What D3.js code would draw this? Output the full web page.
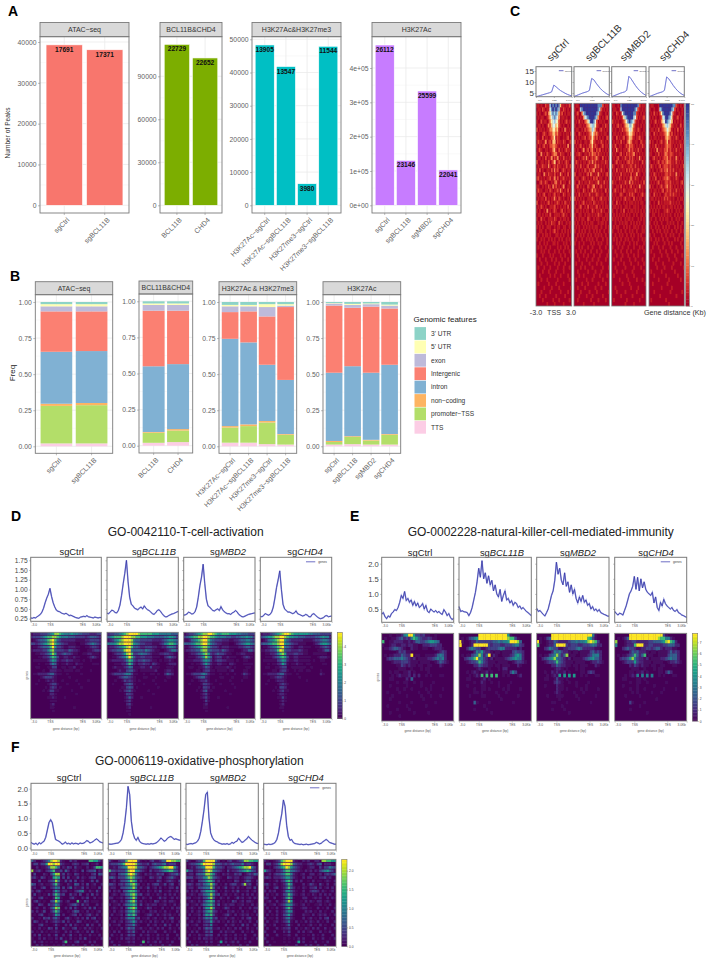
<!DOCTYPE html>
<html>
<head>
<meta charset="utf-8">
<script src="https://cdn.jsdelivr.net/npm/d3@7"></script>
<style>
html, body { margin: 0; padding: 0; background: #fff; }
svg { display: block; font-family: "Liberation Sans", Arial, sans-serif; }
</style>
</head>
<body>
<div id="chart"></div>
<script>
// Panel A: peak counts
var peakCatsAtac = ["sgCtrl", "sgBCL11B"];
var peakValsAtac = [39300, 38100];
var peakLabsAtac = [17691, 17371];
var peakTicksAtac = [0, 10000, 20000, 30000, 40000];
var peakCatsBcl = ["BCL11B", "CHD4"];
var peakValsBcl = [112300, 102800];
var peakLabsBcl = [22729, 22652];
var peakTicksBcl = [0, 30000, 60000, 90000];
var peakCatsHist = ["H3K27Ac−sgCtrl", "H3K27Ac−sgBCL11B", "H3K27me3−sgCtrl", "H3K27me3−sgBCL11B"];
var peakValsHist = [48300, 41800, 6500, 47900];
var peakLabsHist = [13905, 13547, 3980, 11544];
var peakTicksHist = [0, 10000, 20000, 30000, 40000, 50000];
var peakCatsAc = ["sgCtrl", "sgBCL11B", "sgMBD2", "sgCHD4"];
var peakValsAc = [467000, 131000, 333000, 103000];
var peakLabsAc = [26112, 23146, 25599, 22041];
var peakTicksAc = [0, 100000, 200000, 300000, 400000];
var peakTickLabsAc = ["0e+00", "1e+05", "2e+05", "3e+05", "4e+05"];

// Panel B: genomic features, bottom of the stack first
var features = ["TTS", "promoter−TSS", "non−coding", "intron", "Intergenic", "exon", "5' UTR", "3' UTR"];
var featureColors = ["#fccde5", "#b3de69", "#fdb462", "#80b1d3", "#fb8072", "#bebada", "#ffffb3", "#8dd3c7"];
var freqAtac = [[.02, .26, .015, .36, .28, .035, .015, .015], [.02, .265, .015, .36, .275, .035, .015, .015]];
var freqBcl = [[.02, .07, .005, .455, .385, .04, .01, .015], [.025, .08, .01, .45, .37, .04, .01, .015]];
var freqHist = [[.025, .105, .01, .605, .185, .04, .01, .02], [.025, .115, .012, .568, .215, .035, .01, .02],
  [.015, .15, .01, .39, .335, .065, .02, .015], [.012, .068, .005, .375, .505, .01, .01, .015]];
var freqAc = [[.012, .018, .007, .473, .465, .015, .003, .007], [.015, .05, .005, .485, .405, .02, .007, .013],
  [.012, .028, .005, .465, .458, .017, .005, .01], [.012, .068, .005, .48, .39, .02, .007, .018]];
var freqTicks = [0, .25, .5, .75, 1];

// Panel C: TSS profiles
var sampleNames = ["sgCtrl", "sgBCL11B", "sgMBD2", "sgCHD4"];
var profC = [
  [3.3, 3.6, 3.9, 4.2, 4.5, 4.8, 5.1, 5.5, 8.6, 7.8, 6.9, 6.1, 5.5, 4.9, 4.4, 4.0, 3.7],
  [3.4, 3.8, 4.2, 4.6, 5.0, 5.3, 5.6, 6.2, 11.6, 11.0, 9.5, 8.2, 7.0, 6.0, 5.2, 4.5, 4.0],
  [3.3, 3.7, 4.1, 4.5, 4.9, 5.2, 5.5, 6.2, 12.6, 11.5, 10, 8.5, 7.2, 6.1, 5.2, 4.5, 3.9],
  [3.3, 3.7, 4.1, 4.5, 4.9, 5.2, 5.5, 6.2, 12.3, 11.4, 9.9, 8.4, 7.1, 6.0, 5.1, 4.4, 3.9]
];
var heatCCtrl = [
"110100211798989841101020","011021011689898710210101","101001203578787412010110","010110012467876301101001","100201101356765201012011",
"011010013246645210100101","201101011335534101031010","010012101224423110101102","110020110123512100101201","021101301214402110210012",
"101012010223321010110301","012100110113410201012110","100301021012331021100102","011010201130213010201011","200110102012401201012100",
"010121103101202110102012","102010011020312001210110","011003102110201031010201","120101011201302011201010","001201210010231020110021",
"110010102103120101300110","021100110210112031010201","101012001101201100210110","010110201011310210100102","200101012010112101021010",
"010210100111201010110201","101001030101210012010110","011010110200111101201001","100201001110210010110100","010100101021100201001011",
"101010011100101100110010","001100100101201001010101","010010110100011010100100","100101001010100101001010","001001010001101000101001",
"010100100100001010010100","000101001000100100100010","100010000101000010010001","001000100010010001000100","000100010000100100010000",
"010001000100001000100010","000010001000010000100000","001000000100100010000100","000100010000001000000010","010000001000010000100000",
"000001000010000100000001","000100000100000010000100","001000100000010000010000","000010000001000100000010","000000010000100000100000"];
var heatCBcl = [
"011099999999999988820110","100178999999999987201010","012003789999999872100101","101010367899998731010120","010201023579986201101001",
"100110102346775210010210","011001021234763101201010","100210101123642310101100","010101120122531201010021","201010011013521010210101",
"010120101022412100120110","101001301202310212010101","011210011021322021101010","100101203101212310020101","021010110120302010110210",
"101020101201113020101010","010101021021230110201001","200110101203101031010120","011001210101021201100101","100201011021101130102010",
"012010100210230101201010","101100210101312010100201","010201011020101210110010","201010100111210101201101","010101201011021010110100",
"100120010201101201010110","011010101100210110201001","100110010110101021100110","010101100210010110011010","101001010101100010110100",
"010100101010101100100101","100101010010010101001001","001010100101001010100100","010001001010100100010010","100100100001010010100010",
"000101000100100001000100","010010010001000100100001","001000100100010001000010","000100001000100010000100","010001000010000100100000",
"000010010000100000010001","001000000100001000100000","000100100000010001000010","010000001000100000010000","000001000100000010000100",
"001000010000001000100000","000010000010000100000001","000100001000100000010000","001000000001000010000100","000000100000010000000000"];
var heatCMbd = [
"110010899999999999820110","011001799999999987210101","100210168999999882101010","010101025789999762010120","201010012468987620100101",
"010120101345775310101010","101001021234664210210010","011010101123553201010101","100201012012442101120100","010110201013431011002101",
"102001100121322101010210","010310101102312010201001","101001201021212301010101","010120010210202101031010","001201101012212010100201",
"210010120101121020101010","010201011020212010210101","101010201101020113010010","010102101010131021100101","201001010210302010101020",
"100110201010120101030101","012010102101111021010100","101001210010212100101201","010110101201100201011001","100201001010111010101100",
"011010100110100110100101","100100102001011010101010","010101011010100101001101","101010100101101000101010","001001010110010101010010",
"010110001010100110100101","100010100100101001000110","001001010010010100101000","010100100101001000100101","000101001000100101000010",
"100010010001000100010100","001000100010010000100010","000100010001000100100000","010000100000100010000100","000010001000010000100010",
"001000000100000100001000","000100010000001000000010","010000000010000100000000","000001000001000001000100","000000010000100000000001",
"001000000000010000100000","000100000100000001000000","000000100000001000000100","010000000010000000010000","000000000100000100000000"];
var heatCChd = [
"011000199999999988210101","100100178999999872010010","010201025899998621001010","101010012679987510120100","010120103569876401010101",
"100101011346764210100201","011010201234653101020110","100201011123541201010101","010110101013432010210010","201001012012412110101101",
"101020101012322101010210","010103011022312010201010","110010201023212210101100","001201010122312010310101","100101201212322110201010",
"021010120122212010110102","101001012022312020101101","010210101012212110301010","101020010122321010210001","010101201012212010110120",
"201001012012312101010101","010110101201212010201010","100201010012112021101001","011010101020211010010110","100100201011112010101001",
"010101010110101101010100","101010100011210100101001","001100101010101001010110","010010010101100100101000","100101001000101010010010",
"010010100101010001010100","001001010010100100100101","100100001001001010001000","010010100100100001010010","000101000010010100000100",
"001000100100001000100010","010000010001000100010000","000100001000100001000010","001000100000010000100000","000010000100000010000100",
"000001000010000100000001","010000001000000001000000","000100000001000000010000","000000100000010000000100","001000000000100000000000",
"000000001000000100000000","000100000000001000000010","000000010000000000100000","010000000001000000000000","000000000000010000000000"];

// Panel D: T-cell activation
var profDCtrl = [.27, .26, .28, .27, .30, .33, .36, .42, .52, .66, .78, .88, 1.03, .82, .66, .55, .47, .44, .43, .40, .38, .37, .39, .36, .33, .34, .32, .30, .28, .27, .26, .29, .30, .31, .30, .33, .30, .29, .28, .27, .29, .28, .27, .28, .28];
var profDBcl = [.39, .38, .42, .47, .45, .41, .40, .46, .60, .85, 1.15, 1.42, 1.75, 1.20, .80, .62, .58, .52, .50, .48, .52, .55, .50, .58, .52, .48, .46, .42, .38, .36, .40, .46, .48, .44, .38, .33, .30, .30, .33, .35, .37, .38, .40, .42, .44];
var profDMbd = [.34, .35, .37, .42, .40, .37, .38, .43, .55, .80, 1.10, 1.32, 1.65, 1.15, .75, .58, .55, .50, .46, .45, .48, .50, .46, .56, .48, .43, .40, .38, .38, .36, .40, .42, .46, .42, .36, .33, .30, .30, .32, .34, .36, .37, .38, .39, .40];
var profDChd = [.31, .30, .33, .38, .36, .34, .36, .42, .55, .78, 1.05, 1.25, 1.48, 1.00, .62, .50, .46, .42, .42, .40, .38, .40, .45, .38, .36, .34, .32, .33, .36, .34, .30, .30, .36, .38, .34, .30, .27, .25, .26, .28, .32, .33, .30, .31, .32];
var profDTicks = [.25, .5, .75, 1, 1.25, 1.5, 1.75];
var heatDCtrl = [
"122233345688765556554433322233","233345677887655544433332344432","012344578974322222211112233332","332345678975432211100112345432",
"011234457963321122211001123321","122223357843332243221000112332","001122346862234332110011221110","000112235763112211211000123210",
"011111124652122322111010010000","000100113541011211021100001110","001100011330011011200100000000","000001002221101111011000010000",
"011222234421100100000100000000","000012333210000010000000000000","000100121210010000010000100000","001000012331000100001000000000",
"000000102320100000000100000000","000001013311000001000000000000","000000002210000000010000000000","000000011210001000000000000000",
"000000001110000000000000000000","000000001200000000000000000000","000000001100000000100000000000","000000000100000000000000000000",
"000000000000000000000000000000","000000000000000000000000000000"];
var heatDBcl = [
"233445678999987777766655555444","456777899988776665554444556653","123567899985443333322223456654","555678899986543322211123567764",
"122345678974432233322112245542","123344589954444354321100123553","001233468973345443211122332210","001123457974223322211100234320",
"012222235763233433211010112100","000111224752122322132100012220","001211123541112211311100011100","000012113442101111112000122100",
"012333345531100100110100243200","000012344321000110001000011000","000100132321010000010000100000","001000023431000100001000000000",
"000000113430100000000100000000","000001023421000001000000000000","000000013320000000010000000000","000000012420001000000000000000",
"000000012310000000000000000000","000000002310000000000000000000","000000001200000000100000000000","000000001100000000000000000000",
"000000000100000000000000000000","000000000000000000000000000000"];
var heatDMbd = [
"123345678899876677766655444333","345677889987765555443344556553","112456789975433322211223445543","444567789975432211100123456654",
"112345678864332122211112234432","122334478844333243211000122442","001223457863234332110011221110","001112346864123311211100123210",
"011122235653123322111010011000","000101124642112211022100011110","001100112431011111210100001100","000001102331101111012000011000",
"011233345421100100100100132100","000012344210000110001000011000","000100122310010000010000100000","001000013321000100001000000000",
"000000103320100000000100000000","000001013411000001000000000000","000000012310000000010000000000","000000012310001000000000000000",
"000000001310000000000000000000","000000001200000000000000000000","000000001100000000100000000000","000000000100000000000000000000",
"000000000000000000000000000000","000000000000000000000000000000"];
var heatDChd = [
"122234567899876666665544433333","345667889987665544433334456552","012456789964322222111123345543","344567789965432211100012356654",
"011234578954321122111001123432","112233479843322232110000112442","001122357862223322110011111100","001112346763112211111000122210",
"011111134652112211111010011000","000101123641011211011000001100","001100112330011111100100000000","000001102331001011011000010000",
"011222234421100100000000021000","000011233210000010000000000000","000100122210000000010000000000","001000012321000000000000000000",
"000000103320000000000000000000","000001012311000000000000000000","000000012210000000000000000000","000000011310000000000000000000",
"000000001210000000000000000000","000000001200000000000000000000","000000001100000000000000000000","000000000100000000000000000000",
"000000000000000000000000000000","000000000000000000000000000000"];
var heatDTicks = [0, 1, 2, 3, 4];

// Panel E: NK cell mediated immunity
var profECtrl = [.33, .38, .25, .18, .27, .23, .35, .40, .48, .45, .55, .72, .95, .85, 1.08, .78, .85, .72, .80, .62, .75, .60, .70, .55, .60, .68, .50, .62, .42, .38, .50, .44, .40, .45, .38, .42, .35, .32, .48, .40, .28, .35, .22, .15, .20];
var profEBcl = [.58, .42, .44, .41, .40, .38, .28, .38, .55, .80, 1.05, 1.40, 1.85, 1.55, 2.10, 1.50, 1.70, 1.35, 1.60, 1.30, 1.45, 1.10, 1.30, 1.00, .90, 1.15, .75, .95, 1.10, .80, .85, .70, .78, .62, .72, .68, .55, .60, .50, .55, .48, .42, .38, .33, .28];
var profEMbd = [.52, .42, .45, .38, .32, .27, .38, .50, .72, .95, 1.10, 1.45, 2.05, 1.65, 1.85, 1.45, 1.30, 1.70, 1.25, 1.40, 1.05, 1.30, 1.00, 1.15, .85, .70, .90, .75, .95, .72, .80, .62, .68, .50, .58, .45, .50, .42, .48, .38, .35, .32, .30, .27, .26];
var profEChd = [.42, .35, .30, .36, .34, .30, .45, .60, .80, 1.00, 1.10, 1.25, 1.58, 1.15, 1.55, 1.10, 1.50, 1.20, 1.40, 1.15, 1.05, 1.00, .95, 1.05, .70, .90, .55, .45, .72, .60, .82, .68, .60, .55, .50, .55, .45, .42, .48, .38, .35, .30, .28, .25, .22];
var profETicks = [.5, 1, 1.5, 2];
var heatECtrl = [
"000100112569963323110010000000","010011234232576432232110000000","700112222112124433456654000000","100122112212211002223332200000",
"011234432100211001100122210000","000000132311000000000001232000","010112224322901100111124542000","002334445432120111122345452000",
"000012223332111011110012432100","000000113212110110011000210000","000000011100100010110000000000","000101100112010000010000000000",
"000010121112020200101000110000","000110000020400000000000000000","000000100110010010000100000000","000100000010000010001000000000",
"000000100100100000101000010000","001000010000000100010000000000","000010000010000010001000100000","000100000000000001000000000000",
"000000010000100000000010000000","001000000010000000100000000000","000000100001000000000000000000","000100000000010000010000000000",
"000000010000000000000000000000","000000000000000000000000000000"];
var heatEBcl = [
"000000009999999999996100000000","010134569999999999998773100000","910012243333334454556999840000","900012999999323332233345532000",
"000245433112333345522222120000","000000254632210110111134332000","010113458524902100111235652000","002345795532120111123456552000",
"000123347532111011110012332100","000000224322110110111000210000","000000012100100010220000000000","000101210112010000110353000000",
"000010121707070700101000120000","000110000120100000000000000000","000000100210010010000100000000","000100000110000010001000000000",
"000000100110100000101000010000","000000110100000100010000000000","000010000110000010000000100000","000000000000000001000000000000",
"000000410000100000000010000000","000000000010000000000000000000","000000100001000000000000000000","000000000000010000000000000000",
"000000000000000000000000000000","000000000000000000000000000000"];
var heatEMbd = [
"000000999999999999999995100000","010134999999999999999763100000","910012243222234454556898730000","700012249999323332233345422000",
"000235433112233345422222110000","000000254532210110111134232000","010113458424801100111235552000","002345685432120111123456442000",
"000123347432111011110012232100","000000224322110110111000210000","000000012210100010110000000000","000100212112010000110232000000",
"000010121606060600101000110000","000110013110100000000000000000","000000023210010010000100000000","000100002110000010001000000000",
"000000002110100000101000010000","000000012100000100010000000000","000010001110000010000000100000","000000000100000001000000000000",
"000000110000100000000010000000","000000000010000000000000000000","000000100001000000000000000000","000000000000010000000000000000",
"000000000000000000000000000000","000000000000000000000000000000"];
var heatEChd = [
"000000999999999999993100000000","010124999999999999877552100000","800012233222223344456897620000","500012227999223322223344422000",
"000234332112233234421222110000","000000243422210110111124232000","010112347424701100111134442000","002334685322120111122345442000",
"000123336322111011110012232100","000000213212110110011000110000","000000011100100010110000000000","000000110112010000110242000000",
"000010121505050500101000110000","000110000110100000000000000000","000000100110010000000100000000","000100000100000010000000000000",
"000000100100100000001000010000","000000010100000100010000000000","000010000010000000000000000000","000000000000000001000000000000",
"000000310000100000000000000000","000000000010000000000000000000","000000100000000000000000000000","000000000000010000000000000000",
"000000000000000000000000000000","000000000000000000000000000000"];
var heatETicks = [0, 1, 2, 3, 4, 5, 6, 7];

// Panel F: oxidative phosphorylation
var profFCtrl = [.18, .14, .12, .15, .10, .17, .13, .18, .22, .35, .60, .85, .95, .85, .55, .28, .25, .22, .18, .12, .14, .19, .13, .15, .12, .16, .13, .15, .14, .12, .16, .14, .15, .18, .24, .22, .16, .18, .21, .26, .30, .26, .20, .18, .16];
var profFBcl = [.13, .12, .12, .13, .14, .15, .16, .20, .28, .50, .85, 1.35, 2.08, 1.80, .90, .50, .32, .25, .35, .22, .16, .14, .13, .12, .13, .12, .14, .13, .14, .16, .20, .26, .33, .28, .22, .25, .32, .36, .38, .34, .28, .30, .28, .26, .25];
var profFMbd = [.12, .11, .13, .14, .13, .15, .17, .22, .32, .55, .90, 1.30, 1.80, 1.88, 1.00, .50, .35, .26, .22, .20, .16, .14, .12, .13, .12, .14, .11, .13, .18, .15, .20, .22, .32, .25, .18, .20, .26, .30, .38, .32, .26, .22, .18, .15, .14];
var profFChd = [.12, .11, .10, .12, .11, .12, .14, .18, .28, .50, .85, 1.15, 1.62, 1.40, .75, .38, .25, .28, .18, .14, .13, .12, .11, .12, .10, .11, .12, .10, .11, .12, .13, .14, .18, .16, .13, .15, .20, .24, .28, .24, .18, .16, .14, .12, .12];
var profFTicks = [0, .5, 1, 1.5, 2];
var heatFCtrl = [
"420012358998210031200000776631","133133699899321102320223011200","002011248874021320311002013776","812310235722304201210302334021",
"030002103688130210320101023043","231032011676030301130210233010","010301023485103130301200130300","430120112473100210430203012002",
"120023002354030240211302011030","202310110364122010234510210310","030101031475230031203002030201","210230100276100023100213002011",
"023101003486201200071032011100","100320032364100123420312000201","012002013587002030310120303011","202013002475100102430102010120",
"010230011264020012302012310201","200103231342002310120203023010","032010201232130201032010101201","100230100131002030210103020020",
"010201032030031102301020210102","201020101121002020120102030100","020301020130020130102010201020","100202011020301020102030100102",
"020120101010027010230100202000","002020100101020102010020020100"];
var heatFBcl = [
"310023379999310102311244998877","233345799998432231343345233310","112134569998443202345678899631","733233358996532103122345677431",
"122034468985210212113230123342","343133357874321003212301234210","012013346875120101103201232103","332023245786201020233113023002",
"122003345685120130120201022030","202120346775201021021301120120","012102245786230120102102020201","220112134685102102001312012021",
"012102135785120101032012022100","201120245675130121220112010201","012102036786110132010020102022","102012135674201002120102010020",
"020112036574100123102012120102","201102135562301120120102023010","012012023463120102021020102002","201120023352100020120103020020",
"010102024341120102102020020102","102020013241002021120002010200","020102013230020120102010200020","200102022120101020102010200102",
"020010012120017020120200102000","002020001110020102010020020000"];
var heatFMbd = [
"310023379999420102311234887766","123345799998443232343335233210","012134569997433202234567889531","633123358985432103122345676431",
"122034458875210212113230123243","333123356874321003212201233210","012003346774120101103201243102","232023245685201020233113823002",
"122013345584120130120201022030","202120346675201021021301120120","012102245685230120102102020201","220112134684102102001312012021",
"012102135675120101032012022100","201120245674130121220112010201","012102036685110132010020102022","102012135673201002120102010020",
"020112036573100123102012120102","201102135462301120120102023010","012012023362120102021020102002","201120023251100020120103020020",
"010102024341120102102020020102","102020013240002021120002010200","020102113230020120102010200020","200102022120101020102010200102",
"020010102020016020120200102000","002020001010020102010020020000"];
var heatFChd = [
"210012378999210021200220887766","133123589998432211232134022210","001023467986432100122003133543","632102235775432102120213456431",
"012023345775210120022012023234","232022234664210020220102231200","001012023675120200102011012102","231021012475100020132103102002",
"020023012474201021022302012020","202120012564210020023320210120","020102013475210120102102020201","220020012575100022001212002021",
"012002012486100102021022012100","201120123565210120100112010201","020102012574100122010020102002","102002012465100002120102010020",
"020102013463100021102012120102","201102012452100020120102023010","020012012351020102021020102002","201020011241002010120102010020",
"020002012230020102102020020102","200020002130002020120002010200","020002001120020010102010200020","200100001010102020002010200102",
"020010001010016020010200102000","002000000100020002020020020000"];
var heatFTicks = [0, .5, 1, 1.5, 2];

var width = 709, height = 964;
var svg = d3.select("#chart").append("svg")
  .attr("width", width).attr("height", height).attr("viewBox", [0, 0, width, height]);
var defs = svg.append("defs");
defs.append("filter").attr("id", "soft").attr("x", 0).attr("y", 0).attr("width", 1).attr("height", 1)
  .append("feGaussianBlur").attr("stdDeviation", 0.45);

var tickGrey = "#5f5f5f", borderGrey = "#7a7a7a";

function styleAxis(g, size, color) {
  g.select(".domain").remove();
  g.attr("font-family", null).attr("font-size", size);
  g.selectAll("line").attr("stroke", borderGrey).attr("stroke-width", 0.5);
  g.selectAll("text").attr("fill", color);
}

function panelLetter(txt, x, y) {
  svg.append("text").attr("x", x).attr("y", y).attr("font-size", 14).attr("font-weight", "bold").text(txt);
}

// ggplot facet frame: strip, grid and border
function facetFrame(title, x0, x1, top, stripBottom, bottom, y, ticks, x, cats, stripFont) {
  var g = svg.append("g");
  // minor then major grid
  var minors = d3.pairs(ticks).map(function (p) { return (p[0] + p[1]) / 2; });
  g.selectAll("line.minor").data(minors).enter().append("line").classed("minor", true)
    .attr("x1", x0).attr("x2", x1).attr("y1", y).attr("y2", y).attr("stroke", "#f3f3f3").attr("stroke-width", 0.5);
  g.selectAll("line.major").data(ticks).enter().append("line").classed("major", true)
    .attr("x1", x0).attr("x2", x1).attr("y1", y).attr("y2", y).attr("stroke", "#ebebeb").attr("stroke-width", 0.8);
  g.selectAll("line.vert").data(cats).enter().append("line").classed("vert", true)
    .attr("y1", stripBottom).attr("y2", bottom)
    .attr("x1", function (d) { return x(d) + x.bandwidth() / 2; })
    .attr("x2", function (d) { return x(d) + x.bandwidth() / 2; })
    .attr("stroke", "#ebebeb").attr("stroke-width", 0.8);
  svg.append("rect").attr("x", x0).attr("y", top).attr("width", x1 - x0).attr("height", stripBottom - top)
    .attr("fill", "#d9d9d9").attr("stroke", borderGrey).attr("stroke-width", 0.9);
  svg.append("text").attr("x", (x0 + x1) / 2).attr("y", (top + stripBottom) / 2 + 2.4)
    .attr("text-anchor", "middle").attr("font-size", stripFont).attr("fill", "#333").text(title);
}

function facetAxes(x0, x1, stripBottom, bottom, y, ticks, tickLabs, x, cats) {
  var yAxis = d3.axisLeft(y).tickValues(ticks).tickSize(2).tickPadding(1.5)
    .tickFormat(tickLabs || function (d) { return d; });
  svg.append("g").attr("transform", "translate(" + x0 + ",0)").call(yAxis)
    .call(styleAxis, 6.8, tickGrey);
  var xAxis = d3.axisBottom(x).tickSize(2).tickFormat("");
  svg.append("g").attr("transform", "translate(0," + bottom + ")").call(xAxis).call(styleAxis, 6.8, tickGrey);
  svg.selectAll(null).data(cats).enter().append("text")
    .attr("text-anchor", "end").attr("font-size", 7).attr("fill", tickGrey)
    .attr("transform", function (d) {
      return "translate(" + (x(d) + x.bandwidth() / 2 + 3) + "," + (bottom + 5) + ") rotate(-45)";
    })
    .attr("dy", "0.5em").text(function (d) { return d; });
  svg.append("rect").attr("x", x0).attr("y", stripBottom).attr("width", x1 - x0).attr("height", bottom - stripBottom)
    .attr("fill", "none").attr("stroke", borderGrey).attr("stroke-width", 0.9);
}

function peakFacet(title, cats, vals, labs, ticks, tickLabs, color, x0, x1, domTop, yTop) {
  var x = d3.scaleBand().domain(cats).range([x0, x1]).paddingInner(.1).paddingOuter(.15);
  var y = d3.scaleLinear().domain([0, domTop]).range([205.3, yTop]);
  facetFrame(title, x0, x1, 22.5, 36.7, 213, y, ticks, x, cats, 7);
  svg.selectAll(null).data(cats).enter().append("rect")
    .attr("x", function (d) { return x(d); })
    .attr("width", x.bandwidth())
    .attr("y", function (d, i) { return y(vals[i]); })
    .attr("height", function (d, i) { return y(0) - y(vals[i]); })
    .attr("fill", color).attr("stroke", "#fff").attr("stroke-width", 0.6);
  svg.selectAll(null).data(cats).enter().append("text")
    .attr("x", function (d) { return x(d) + x.bandwidth() / 2; })
    .attr("y", function (d, i) { return y(vals[i]) + 7; })
    .attr("text-anchor", "middle").attr("font-size", 6.6).attr("font-weight", "bold").attr("fill", "#111")
    .text(function (d, i) { return labs[i]; });
  facetAxes(x0, x1, 36.7, 213, y, ticks, tickLabs, x, cats);
}

function freqFacet(title, cats, rows, x0, x1, top, stripBottom, bottom, y1, y0) {
  var x = d3.scaleBand().domain(cats).range([x0, x1]).paddingInner(.1).paddingOuter(.15);
  var y = d3.scaleLinear().domain([0, 1]).range([y0, y1]);
  facetFrame(title, x0, x1, top, stripBottom, bottom, y, freqTicks, x, cats, 6.9);
  var stack = d3.stack().keys(d3.range(features.length));
  var layers = stack(rows);
  svg.selectAll(null).data(layers).enter().append("g")
    .attr("fill", function (d) { return featureColors[d.key]; })
    .selectAll("rect").data(function (d) { return d; }).enter().append("rect")
    .attr("x", function (d, i) { return x(cats[i]); })
    .attr("width", x.bandwidth())
    .attr("y", function (d) { return y(d[1]); })
    .attr("height", function (d) { return y(d[0]) - y(d[1]); });
  facetAxes(x0, x1, stripBottom, bottom, y, freqTicks, d3.format(".2f"), x, cats);
}

// A
panelLetter("A", 8, 16);
peakFacet("ATAC−seq", peakCatsAtac, peakValsAtac, peakLabsAtac, peakTicksAtac, null, "#f8766d", 40, 129, 40000, 42);
peakFacet("BCL11B&CHD4", peakCatsBcl, peakValsBcl, peakLabsBcl, peakTicksBcl, null, "#7cae00", 160, 222, 90000, 76.3);
peakFacet("H3K27Ac&H3K27me3", peakCatsHist, peakValsHist, peakLabsHist, peakTicksHist, null, "#00bfc4", 252, 341, 50000, 39.3);
peakFacet("H3K27Ac", peakCatsAc, peakValsAc, peakLabsAc, peakTicksAc, function (d, i) { return peakTickLabsAc[i]; }, "#c77cff", 372, 461, 400000, 68);
svg.append("text").attr("transform", "translate(9.5,133) rotate(-90)").attr("text-anchor", "middle")
  .attr("font-size", 6.6).attr("fill", "#333").text("Number of Peaks");

// B
panelLetter("B", 10, 281);
freqFacet("ATAC−seq", peakCatsAtac, freqAtac, 35.3, 112.7, 281.7, 294.7, 453.3, 302, 446.3);
freqFacet("BCL11B&CHD4", peakCatsBcl, freqBcl, 139, 192.7, 281, 294, 453, 301.3, 445.7);
freqFacet("H3K27Ac & H3K27me3", peakCatsHist, freqHist, 219, 296.7, 281.7, 294.7, 453.3, 302, 446.3);
freqFacet("H3K27Ac", peakCatsAc, freqAc, 323, 400.7, 281.7, 294.7, 453.3, 302, 446.3);
svg.append("text").attr("transform", "translate(14.5,373) rotate(-90)").attr("text-anchor", "middle")
  .attr("font-size", 8).attr("fill", "#222").text("Freq");

var legendNames = features.slice().reverse();
var legendColors = featureColors.slice().reverse();
var legendY = d3.scaleBand().domain(legendNames).range([326.8, 434]);
svg.append("text").attr("x", 413.5).attr("y", 322).attr("font-size", 8).attr("fill", "#222").text("Genomic features");
svg.selectAll(null).data(legendNames).enter().append("rect")
  .attr("x", 414.5).attr("width", 11.5)
  .attr("y", function (d) { return legendY(d) + .3; })
  .attr("height", legendY.bandwidth() - .6)
  .attr("fill", function (d, i) { return legendColors[i]; });
svg.selectAll(null).data(legendNames).enter().append("text")
  .attr("x", 431).attr("y", function (d) { return legendY(d) + legendY.bandwidth() / 2 + 2.3; })
  .attr("font-size", 6.6).attr("fill", "#333").text(function (d) { return d; });

// deepTools style profile + heatmap block
function profileBox(values, x0, x1, top, bottom, y, ticks, tickFont, showLabels, showLegend, opts) {
  var x = d3.scaleLinear().domain([0, values.length - 1]).range([x0, x1]);
  var line = d3.line().x(function (d, i) { return x(i); }).y(function (d) { return y(d); });
  svg.append("path").attr("d", line(values)).attr("fill", "none").attr("stroke", "#9ea4e2").attr("stroke-width", opts.halo);
  svg.append("path").attr("d", line(values)).attr("fill", "none").attr("stroke", opts.color).attr("stroke-width", opts.width);
  svg.append("rect").attr("x", x0).attr("y", top).attr("width", x1 - x0).attr("height", bottom - top)
    .attr("fill", "none").attr("stroke", borderGrey).attr("stroke-width", 1);
  var yAxis = d3.axisLeft(y).tickValues(ticks).tickSize(1.5).tickPadding(1.5)
    .tickFormat(showLabels ? opts.fmt : "");
  svg.append("g").attr("transform", "translate(" + x0 + ",0)").call(yAxis).call(styleAxis, tickFont, "#444");
  if (showLegend) {
    svg.append("line").attr("x1", x0 + (x1 - x0) * .64).attr("x2", x0 + (x1 - x0) * .77)
      .attr("y1", top + opts.legendY).attr("y2", top + opts.legendY)
      .attr("stroke", "#4a4ab5").attr("stroke-width", .8);
    svg.append("text").attr("x", x0 + (x1 - x0) * .81).attr("y", top + opts.legendY + 1)
      .attr("font-size", opts.small).attr("fill", "#444").text("genes");
  }
}

function geneAxis(x0, x1, yPos, small, labels, frac, tickValues) {
  var x = d3.scaleLinear().domain([0, 1]).range([x0, x1]);
  var axis = d3.axisBottom(x).tickValues(tickValues).tickSize(1).tickPadding(1)
    .tickFormat(function (d, i) { return labels[i]; });
  var g = svg.append("g").attr("transform", "translate(0," + yPos + ")").call(axis).call(styleAxis, small, "#555");
  g.selectAll("text").attr("dx", function (d, i) { return frac[i]; });
}

// digits in the heat strings are brightness steps, low steps stay close to the base colour
var viridisFn = function (d) { return d3.interpolateViridis(Math.pow(d / 9, 1.5)); };
var clipCount = 0;

function heatBox(rows, x0, x1, top, bottom, color, base, rowGap) {
  var nCols = rows[0].length;
  var x = d3.scaleBand().domain(d3.range(nCols)).range([x0, x1]);
  var y = d3.scaleBand().domain(d3.range(rows.length)).range([top, bottom]).paddingInner(rowGap);
  var cells = [];
  rows.forEach(function (r, i) { r.split("").forEach(function (c, j) { if (+c > 0) cells.push({ r: i, c: j, v: +c }); }); });
  var id = "clip" + (clipCount++);
  defs.append("clipPath").attr("id", id).append("rect").attr("x", x0).attr("y", top)
    .attr("width", x1 - x0).attr("height", bottom - top);
  var outer = svg.append("g").attr("clip-path", "url(#" + id + ")");
  var g = outer.append("g").attr("filter", "url(#soft)");
  g.append("rect").attr("x", x0).attr("y", top).attr("width", x1 - x0).attr("height", bottom - top).attr("fill", base);
  g.selectAll("rect.cell").data(cells).enter().append("rect").classed("cell", true)
    .attr("x", function (d) { return x(d.c); })
    .attr("y", function (d) { return y(d.r); })
    .attr("width", x.bandwidth() + .3)
    .attr("height", y.bandwidth() + .3)
    .attr("fill", function (d) { return color(d.v); });
  svg.append("rect").attr("x", x0).attr("y", top).attr("width", x1 - x0).attr("height", bottom - top)
    .attr("fill", "none").attr("stroke", borderGrey).attr("stroke-width", .8);
}

function colorBar(x0, x1, top, bottom, interp, domain, ticks, fmt, small) {
  var y = d3.scaleLinear().domain(domain).range([bottom, top]);
  var steps = d3.range(60);
  var step = (bottom - top) / 60;
  svg.selectAll(null).data(steps).enter().append("rect")
    .attr("x", x0).attr("width", x1 - x0)
    .attr("y", function (d) { return bottom - (d + 1) * step; })
    .attr("height", step + .3)
    .attr("fill", function (d) { return interp(d / 59); });
  svg.append("rect").attr("x", x0).attr("y", top).attr("width", x1 - x0).attr("height", bottom - top)
    .attr("fill", "none").attr("stroke", borderGrey).attr("stroke-width", .6);
  var axis = d3.axisRight(y).tickValues(ticks).tickSize(1).tickPadding(1).tickFormat(fmt);
  svg.append("g").attr("transform", "translate(" + x1 + ",0)").call(axis).call(styleAxis, small, "#444");
}

// Subtitle with the gene name in italics
function subtitle(name, cx, y, size, italic) {
  var t = svg.append("text").attr("x", cx).attr("y", y).attr("text-anchor", "middle")
    .attr("font-size", size).attr("fill", "#222");
  if (name === "sgCtrl" || !italic) { t.text(name); return; }
  t.append("tspan").text("sg");
  t.append("tspan").attr("font-style", "italic").text(name.slice(2));
}

var geneLabels = ["-3.0", "TSS", "TES", "3.0Kb"];
var geneTicks = [0, .2727, .73, 1];
var geneShift = [3, 0, 0, -5.5];

function goPanel(title, titleX, titleY, subY, subX, boxes, lineTop, lineBottom, heatTop, heatBottom, prof, heats, y, ticks, bar, fmt, tickFont, rowGap, small) {
  svg.append("text").attr("x", titleX).attr("y", titleY).attr("text-anchor", "middle")
    .attr("font-size", 12).attr("fill", "#222").text(title);
  boxes.forEach(function (b, i) {
    subtitle(sampleNames[i], subX[i], subY, 9.4, true);
    profileBox(prof[i], b[0], b[1], lineTop, lineBottom, y, ticks, tickFont, i === 0, i === 3,
      { halo: 1.5, width: .7, color: "#2d2d9f", fmt: fmt, legendY: 4.5, small: small });
    geneAxis(b[0], b[1], lineBottom + .5, small, geneLabels, geneShift, geneTicks);
    heatBox(heats[i], b[0], b[1], heatTop, heatBottom, viridisFn, d3.interpolateViridis(0), rowGap);
    geneAxis(b[0], b[1], heatBottom + .5, small, geneLabels, geneShift, geneTicks);
    svg.append("text").attr("x", (b[0] + b[1]) / 2).attr("y", heatBottom + 11)
      .attr("text-anchor", "middle").attr("font-size", small).attr("fill", "#555").text("gene distance (bp)");
  });
  svg.append("text").attr("transform", "translate(" + (boxes[0][0] - 3) + "," + ((heatTop + heatBottom) / 2) + ") rotate(-90)")
    .attr("text-anchor", "middle").attr("font-size", small).attr("fill", "#555").text("genes");
  colorBar(bar.x0, bar.x1, heatTop, heatBottom, d3.interpolateViridis, bar.domain, bar.ticks, bar.fmt, small);
}

// C
panelLetter("C", 510, 16);
var boxesC = [[536, 571.7], [574, 609.3], [611.7, 646], [649, 684.3]];
var profYC = d3.scaleLinear().domain([5, 15]).range([93, 71]);
var heatColorC = function (d) { return d3.interpolateRdYlBu(Math.pow(d / 9, 1.3)); };
var heatsC = [heatCCtrl, heatCBcl, heatCMbd, heatCChd];
var labelXC = [551, 589.3, 624, 663.3];
boxesC.forEach(function (b, i) {
  svg.append("text").attr("transform", "translate(" + labelXC[i] + ",61.7) rotate(-45)")
    .attr("font-size", 10).attr("fill", "#333").text(sampleNames[i]);
  profileBox(profC[i], b[0], b[1], 66.7, 96.7, profYC, [5, 10, 15], 8, false, true,
    { halo: 1, width: .5, color: "#5a5fd0", fmt: "", legendY: 4, small: 2.4 });
  geneAxis(b[0], b[1], 97, 2.4, ["-3.0", "TSS", "3.0Kb"], [3, 0, -3], [0, .5, 1]);
  heatBox(heatsC[i], b[0], b[1], 103.3, 306, heatColorC, d3.interpolateRdYlBu(0), 0);
});
svg.append("g").attr("transform", "translate(534,0)")
  .selectAll("text").data([5, 10, 15]).enter().append("text")
  .attr("y", function (d) { return profYC(d) + 3; })
  .attr("text-anchor", "end").attr("font-size", 8).attr("fill", "#333").text(function (d) { return d; });
colorBar(685.7, 689.3, 103.3, 306, d3.interpolateRdYlBu, [0, 50], [0, 10, 20, 30, 40, 50], function (d) { return d; }, 2.4);
var heatLabsC = ["-3.0", "TSS", "3.0", "Gene distance (Kb)"];
var heatLabXC = [536, 554, 571, 675];
svg.selectAll(null).data(heatLabsC).enter().append("text")
  .attr("x", function (d, i) { return heatLabXC[i]; }).attr("y", 314.5)
  .attr("text-anchor", "middle").attr("font-size", 7.2).attr("fill", "#333").text(function (d) { return d; });

// D
panelLetter("D", 11, 521);
goPanel("GO-0042110-T-cell-activation", 185.7, 536, 554.5, [71.7, 154, 228, 305],
  [[30.7, 101.3], [107, 178.3], [183.7, 255], [260.3, 331.7]], 557.3, 621.3, 632.3, 718.7,
  [profDCtrl, profDBcl, profDMbd, profDChd], [heatDCtrl, heatDBcl, heatDMbd, heatDChd],
  d3.scaleLinear().domain([.25, 1.75]).range([618.7, 560.3]), profDTicks,
  { x0: 337.3, x1: 342.3, domain: [0, 4.8], ticks: heatDTicks, fmt: d3.format("d") }, d3.format(".2f"), 6.6, .3, 3.2);

// E
panelLetter("E", 350, 521);
goPanel("GO-0002228-natural-killer-cell-mediated-immunity", 540.7, 536, 555.5, [420, 502, 578, 656],
  [[381.7, 453.7], [459, 531.3], [536.7, 609], [614.7, 686.7]], 557.3, 622.3, 633.3, 721,
  [profECtrl, profEBcl, profEMbd, profEChd], [heatECtrl, heatEBcl, heatEMbd, heatEChd],
  d3.scaleLinear().domain([.5, 2]).range([609, 563.7]), profETicks,
  { x0: 692.3, x1: 697.7, domain: [0, 7.8], ticks: heatETicks, fmt: d3.format("d") }, d3.format(".1f"), 7.6, 0, 3.2);

// F
panelLetter("F", 11, 752);
goPanel("GO-0006119-oxidative-phosphorylation", 199.3, 764.5, 781, [69, 152, 228, 306],
  [[31, 103], [108.3, 180.7], [186, 258.3], [263.7, 336]], 783.3, 850, 859.3, 946.3,
  [profFCtrl, profFBcl, profFMbd, profFChd], [heatFCtrl, heatFBcl, heatFMbd, heatFChd],
  d3.scaleLinear().domain([0, 2]).range([847.7, 788.7]), profFTicks,
  { x0: 341.7, x1: 347, domain: [0, 2.3], ticks: heatFTicks, fmt: d3.format(".1f") }, d3.format(".1f"), 7.6, .3, 3.2);
</script>
</body>
</html>
